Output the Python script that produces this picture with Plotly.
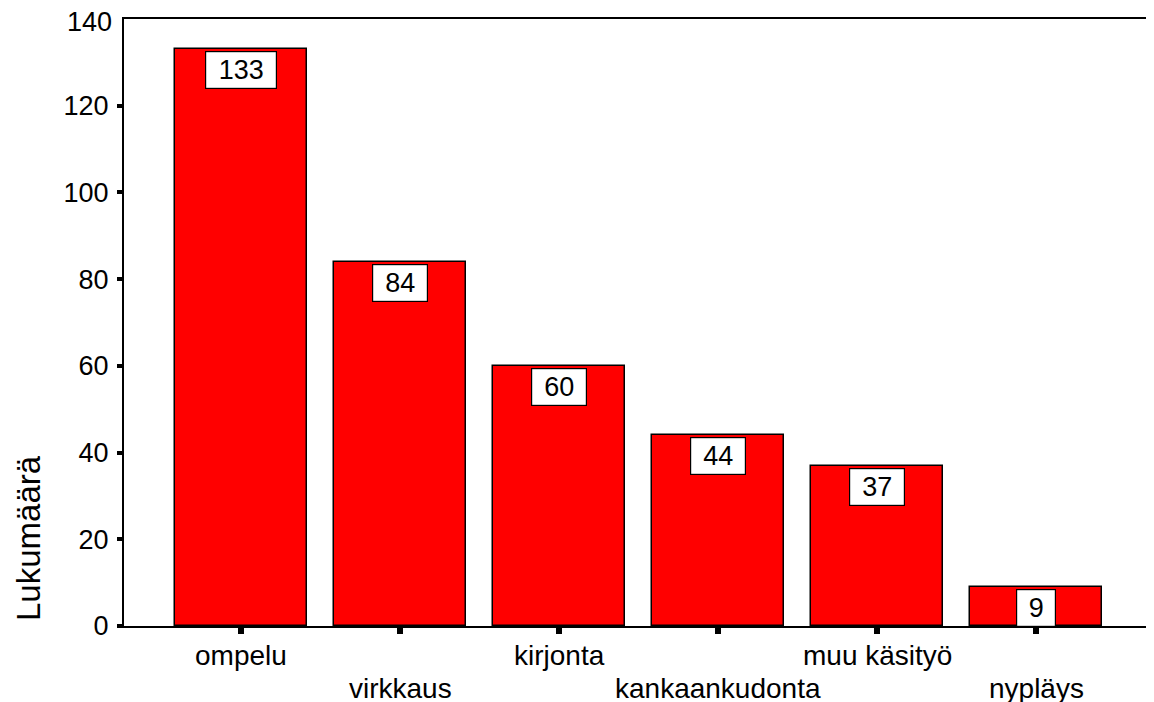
import plotly.graph_objects as go

categories = ["ompelu", "virkkaus", "kirjonta", "kankaankudonta", "muu käsityö", "nypläys"]
counts = [133, 84, 60, 44, 37, 9]
y_tick_vals = [0, 20, 40, 60, 80, 100, 120]
y_top_label = 140
y_title = "Lukumäärä"

FONT = "Liberation Sans, Arial, sans-serif"

# page body has an 8px margin; plot area in viewport: x 124..1154, y 19..626
OFF = 8
L, T, B, R = 124 - OFF, 19 - OFF, 702 - (626 - OFF), OFF
PW = 1154 - L - R
PH = 702 - T - B

fig = go.Figure()
fig.add_trace(go.Bar(
    x=list(range(len(categories))),
    y=counts,
    width=0.825,
    marker=dict(color="#FF0000", line=dict(color="black", width=1.5)),
    hoverinfo="skip",
))

for i, v in enumerate(counts):
    s = str(v)
    fig.add_annotation(
        x=i, y=v, xref="x", yref="y",
        text=s, showarrow=False,
        yanchor="top", xanchor="center", yshift=-2,
        font=dict(family=FONT, size=27, color="black"),
        bgcolor="white", bordercolor="black", borderwidth=1.2, borderpad=2,
        width=18 + 16 * len(s), height=32,
    )

# staggered category labels
for i, c in enumerate(categories):
    fig.add_annotation(
        x=i, y=0, xref="x", yref="paper",
        text=c, showarrow=False,
        xanchor="center", yanchor="middle",
        yshift=-29 if i % 2 == 0 else -62,
        font=dict(family=FONT, size=28, color="black"),
    )

fig.add_annotation(
    x=0, y=y_top_label, xref="paper", yref="y",
    text=str(y_top_label), showarrow=False,
    xanchor="right", yanchor="middle", xshift=-11, yshift=-3,
    borderpad=0, height=24,
    font=dict(family=FONT, size=27, color="black"),
)

fig.add_annotation(
    x=(28 - 124) / PW, y=(626 - 538) / PH, xref="paper", yref="paper",
    text=y_title, showarrow=False, textangle=-90,
    xanchor="center", yanchor="middle",
    borderpad=0, height=32,
    font=dict(family=FONT, size=33, color="black"),
)

fig.update_layout(
    width=1154, height=702,
    margin=dict(l=L, r=R, t=T, b=B, pad=0, autoexpand=False),
    paper_bgcolor="white", plot_bgcolor="white",
    showlegend=False,
    bargap=0,
    xaxis=dict(
        range=[-0.736, 5.742],
        tickvals=list(range(len(categories))),
        showticklabels=False,
        automargin=False,
        ticks="outside", ticklen=6, tickwidth=6, tickcolor="black",
        showline=True, linecolor="black", linewidth=2, mirror=True,
        showgrid=False, zeroline=False,
        fixedrange=True,
    ),
    yaxis=dict(
        range=[0, 140],
        tickvals=y_tick_vals,
        automargin=False,
        ticks="outside", ticklen=5, tickwidth=4, tickcolor="black",
        ticklabelstandoff=3,
        showline=True, linecolor="black", linewidth=2,
        showgrid=False, zeroline=False,
        tickfont=dict(family=FONT, size=27, color="black"),
        fixedrange=True,
    ),
)

fig.write_html("out.html")
